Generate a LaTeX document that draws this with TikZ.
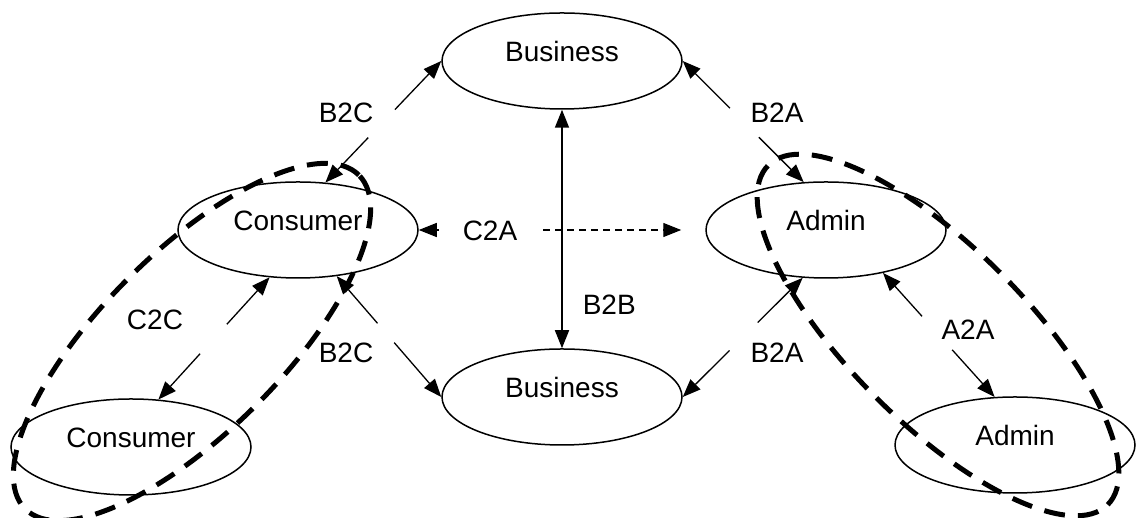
\documentclass[tikz,border=0pt]{standalone}
\usepackage{fontspec}
\setmainfont{Liberation Sans}
\usetikzlibrary{arrows.meta,calc,shapes.geometric}
\tikzset{
  ent/.style={draw,ellipse,line width=1.5pt,minimum width=240pt,minimum height=96pt,inner sep=0pt,
    text height=20pt,text depth=18pt,font=\fontsize{28}{32}\selectfont},
  lab/.style={font=\fontsize{28}{32}\selectfont,inner sep=0pt},
  link/.style={line width=1.3pt,-{Triangle[length=18pt,width=14pt]}},
  fine/.style={dash pattern=on 7pt off 5pt},
  grp/.style={line width=5pt,dash pattern=on 21pt off 13pt},
}
\begin{document}
\begin{tikzpicture}[x=1pt,y=1pt]
  \useasboundingbox (0,0) rectangle (1136,518);
  \node[ent] (b1) at (562,457) {Business};
  \node[ent] (c1) at (298,288) {Consumer};
  \node[ent] (a1) at (826,288) {Admin};
  \node[ent] (b2) at (562,121) {Business};
  \node[ent] (c2) at (131,71) {Consumer};
  \node[ent] (a2) at (1015,73) {Admin};
  \node[lab] (l1) at (346,405) {B2C};
  \node[lab] (l2) at (777,405) {B2A};
  \node[lab] (l3) at (490,287) {C2A};
  \node[lab] (l4) at (155,198) {C2C};
  \node[lab] (l5) at (346,165) {B2C};
  \node[lab] (l6) at (777,165) {B2A};
  \node[lab] (l7) at (968,188) {A2A};
  \coordinate (g1) at ($(c1.60)!0.37!(b1.west)$);
  \coordinate (g2) at ($(c1.60)!0.60!(b1.west)$);
  \coordinate (g3) at ($(a1.115)!0.37!(b1.east)$);
  \coordinate (g4) at ($(a1.115)!0.61!(b1.east)$);
  \coordinate (g5) at ($(c1.east)!0.07!(a1.west)$);
  \coordinate (g6) at ($(c1.east)!0.434!(a1.west)$);
  \coordinate (g7) at ($(c2.60)!0.375!(c1.239)$);
  \coordinate (g8) at ($(c2.60)!0.616!(c1.239)$);
  \coordinate (g9) at ($(c1.310)!0.39!(b2.west)$);
  \coordinate (g10) at ($(c1.310)!0.55!(b2.west)$);
  \coordinate (g11) at ($(a1.244)!0.375!(b2.east)$);
  \coordinate (g12) at ($(a1.244)!0.61!(b2.east)$);
  \coordinate (g13) at ($(a1.-37)!0.35!(a2.113)$);
  \coordinate (g14) at ($(a1.-37)!0.62!(a2.113)$);
  \draw[link] (g1) -- (c1.60);
  \draw[link] (g2) -- (b1.west);
  \draw[link] (g3) -- (a1.115);
  \draw[link] (g4) -- (b1.east);
  \draw[link,fine] (g5) -- (c1.east);
  \draw[link,fine,shorten >=24pt] (g6) -- (a1.west);
  \draw[link] (g7) -- (c2.60);
  \draw[link] (g8) -- (c1.239);
  \draw[link] (g9) -- (c1.310);
  \draw[link] (g10) -- (b2.west);
  \draw[link] (g11) -- (a1.244);
  \draw[link] (g12) -- (b2.east);
  \draw[link] (g13) -- (a1.-37);
  \draw[link] (g14) -- (a2.113);
  \draw[line width=1.6pt,{Triangle[length=18pt,width=14pt]}-{Triangle[length=18pt,width=14pt]}] (b1.south) -- (b2.north)
    node[lab,pos=0.816,right=20pt] {B2B};
  \draw[grp,rotate around={45:(192,176)}] (192,176) ellipse [x radius=236pt,y radius=90pt];
  \draw[grp,rotate around={-45:(938,183)}] (938,183) ellipse [x radius=240pt,y radius=88pt];
\end{tikzpicture}
\end{document}
